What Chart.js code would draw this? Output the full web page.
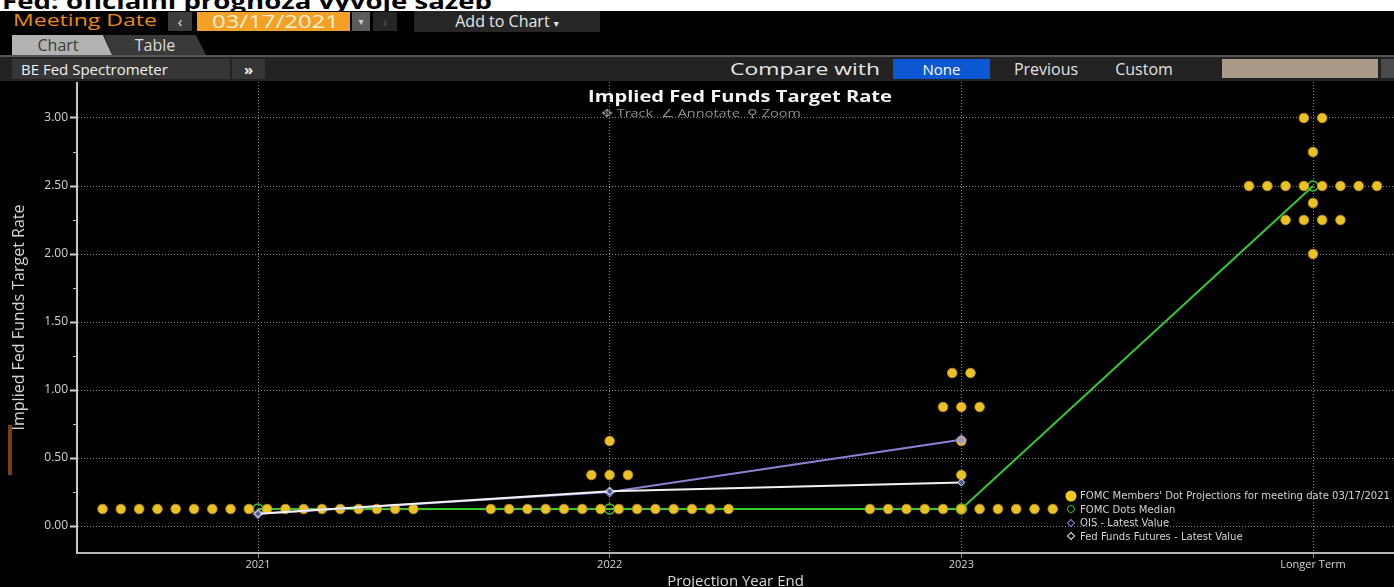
<!DOCTYPE html>
<html>
<head>
<meta charset="utf-8">
<title>Implied Fed Funds Target Rate</title>
<script src="https://cdn.jsdelivr.net/npm/chart.js@4.4.0/dist/chart.umd.min.js"></script>
<style>
    html, body {
        margin: 0;
        padding: 0;
        width: 1394px;
        height: 587px;
        overflow: hidden;
        background: #000;
        font-family: 'Open Sans', 'DejaVu Sans', sans-serif;
    }
    .abs { position: absolute; white-space: nowrap; }
    .fit { display: inline-block; transform-origin: left center; }
    #topTitle {
        position: absolute; left: 0; top: 0; width: 1394px; height: 11px;
        background: #fff; overflow: hidden;
    }
    #topTitle span {
        position: absolute; left: 2px; top: -11px;
        font: bold 22px/22px 'Open Sans', sans-serif; color: #000;
    }
    .btn {
        position: absolute; height: 19px; line-height: 19px;
        text-align: center; font-size: 15px; color: #e6e6e6;
    }
    .row3 {
        position: absolute; left: 0; top: 57px; width: 1394px; height: 24px;
        background: #232323;
    }
    #chartWrap { position: absolute; left: 0; top: 82px; }
    #chartTitle {
        position: absolute; left: 588px; top: 85px;
        font: bold 16px 'Open Sans', sans-serif; color: #f4f4f4;
    }
    #chartTools {
        position: absolute; left: 601px; top: 105px;
        font: 11px 'Open Sans', sans-serif; color: #8c8c8c;
    }
    #legend {
        position: absolute; left: 1062px; top: 489px;
        font: 10px 'Liberation Sans Narrow', 'DejaVu Sans Condensed', sans-serif;
        color: #d4d4d4;
    }
    #legend .item { position: relative; height: 13.5px; line-height: 13.5px; padding-left: 18px; }
    #legend .mk { position: absolute; left: 9px; top: 50%; transform: translate(-50%, -50%); }
</style>
</head>
<body>

<div id="topTitle"><span class="fit" data-w="490">Fed: oficiální prognóza vývoje sazeb</span></div>

<!-- header row 1 -->
<div class="abs" style="left:13px; top:8px; font-size:17px; color:#e8891a;"><span class="fit" data-w="144">Meeting Date</span></div>
<div class="btn" style="left:168px; top:12px; width:24px; background:#3c3c3c;">&lsaquo;</div>
<div class="btn" style="left:197px; top:12px; width:153px; background:#f2a126;"><span class="fit" data-w="127" style="color:#fff0d4; font-size:19px; line-height:19px; position:absolute; left:15px; top:0;">03/17/2021</span></div>
<div class="btn" style="left:352px; top:12px; width:18px; background:#5c5c5c; color:#cfcfcf; font-size:10px;">&#9662;</div>
<div class="btn" style="left:373px; top:12px; width:24px; background:#262626; color:#5a5a5a;">&rsaquo;</div>
<div class="btn" style="left:414px; top:11px; width:186px; height:21px; line-height:21px; background:#262626; font-size:16px;">Add to Chart <span style="font-size:10px;">&#9662;</span></div>

<!-- header row 2: tabs -->
<div class="btn" style="left:104px; top:35px; width:102px; height:20px; line-height:20px; background:#3a3a3a; color:#dcdcdc; font-size:16px; clip-path:polygon(0 0, 90% 0, 100% 100%, 8% 100%);">Table</div>
<div class="btn" style="left:12px; top:35px; width:100px; height:20px; line-height:20px; background:#b2b2b2; color:#3a3a3a; font-size:16px; padding-right:8px; box-sizing:border-box; clip-path:polygon(0 0, 91% 0, 100% 100%, 0 100%);">Chart</div>
<div class="abs" style="left:0; top:55px; width:1394px; height:2px; background:#555;"></div>

<!-- header row 3 -->
<div class="row3"></div>
<div class="btn" style="left:12px; top:59px; width:218px; height:20px; line-height:20px; background:#363636; color:#f0f0f0; text-align:left; padding-left:9px; box-sizing:border-box; font-size:15px;">BE Fed Spectrometer</div>
<div class="btn" style="left:232px; top:59px; width:33px; height:20px; line-height:20px; background:#363636; color:#f0f0f0; font-weight:bold;">&raquo;</div>
<div class="abs" style="left:730px; top:57px; font-size:17px; color:#e8e8e8;"><span class="fit" data-w="150">Compare with</span></div>
<div class="btn" style="left:893px; top:59px; width:97px; height:20px; line-height:20px; background:#0b58d2; color:#fff; font-size:15px;">None</div>
<div class="btn" style="left:996px; top:59px; width:100px; height:20px; line-height:20px; color:#e2e2e2; font-size:16px;">Previous</div>
<div class="btn" style="left:1098px; top:59px; width:92px; height:20px; line-height:20px; color:#e2e2e2; font-size:16px;">Custom</div>
<div class="abs" style="left:1222px; top:59px; width:156px; height:19px; background:#a99a88;"></div>
<div class="abs" style="left:1381px; top:59px; width:13px; height:19px; background:#4a4a4a;"></div>

<div class="abs" style="left:8px; top:425px; width:4px; height:50px; background:#7a3e16;"></div>

<div id="chartWrap"><canvas id="fedChart" width="1394" height="520"></canvas></div>

<div id="chartTitle"><span class="fit" data-w="304">Implied Fed Funds Target Rate</span></div>
<div id="chartTools"><span class="fit" data-w="200">&#10021; Track &nbsp;&#8736; Annotate &nbsp;&#9906; Zoom</span></div>

<div id="legend"></div>

<script>
// Categories and tick labels
const categories = ['2021', '2022', '2023', 'Longer Term'];
const yTicks = [0, 0.5, 1.0, 1.5, 2.0, 2.5, 3.0];
const yMinorTicks = [0.25, 0.75, 1.25, 1.75, 2.25, 2.75];

// FOMC dot plot: rate levels and number of participants at each level, per category
const dotRates = [0.125, 0.375, 0.625, 0.875, 1.125, 2.0, 2.25, 2.375, 2.5, 2.75, 3.0];
const dotCounts2021 = [18, 0, 0, 0, 0, 0, 0, 0, 0, 0, 0];
const dotCounts2022 = [14, 3, 1, 0, 0, 0, 0, 0, 0, 0, 0];
const dotCounts2023 = [11, 1, 1, 3, 2, 0, 0, 0, 0, 0, 0];
const dotCountsLonger = [0, 0, 0, 0, 0, 1, 4, 1, 8, 1, 2];

// Lines
const medianValues = [0.125, 0.125, 0.125, 2.5];
const oisValues = [0.09, 0.25, 0.635];
const futuresValues = [0.09, 0.255, 0.32];

const dotStep = 0.052; // horizontal spread between dots at one level

function buildDots() {
    const points = [];
    [dotCounts2021, dotCounts2022, dotCounts2023, dotCountsLonger].forEach((counts, ci) => {
        counts.forEach((n, ri) => {
            for (let k = 0; k < n; k++) {
                points.push({ x: ci + (k - (n - 1) / 2) * dotStep, y: dotRates[ri] });
            }
        });
    });
    return points;
}

function toXY(values) {
    return values.map((v, i) => ({ x: i, y: v }));
}

const gridColor = '#8a8a8a';
const labelColor = '#d4d4d4';

// minor tick marks on the rate axis
const minorTicks = {
    id: 'minorTicks',
    afterDraw(chart) {
        const y = chart.scales.y;
        const ctx = chart.ctx;
        ctx.save();
        ctx.strokeStyle = '#bdbdbd';
        ctx.lineWidth = 1;
        yMinorTicks.forEach(v => {
            const py = Math.round(y.getPixelForValue(v)) + 0.5;
            ctx.beginPath();
            ctx.moveTo(y.right - 4, py);
            ctx.lineTo(y.right, py);
            ctx.stroke();
        });
        ctx.restore();
    }
};

const chart = new Chart(document.getElementById('fedChart'), {
    type: 'scatter',
    data: {
        datasets: [
            {
                label: "FOMC Members' Dot Projections for meeting date 03/17/2021",
                data: buildDots(),
                backgroundColor: '#e9c226',
                borderColor: 'rgba(190,140,20,0.9)',
                borderWidth: 1,
                pointRadius: 4.8,
                order: 2
            },
            {
                label: 'FOMC Dots Median',
                data: toXY(medianValues),
                showLine: true,
                borderColor: '#33c933',
                borderWidth: 2,
                backgroundColor: 'rgba(0,0,0,0)',
                pointBorderColor: '#33c933',
                pointBorderWidth: 1.5,
                pointRadius: 5,
                order: 3
            },
            {
                label: 'OIS - Latest Value',
                data: toXY(oisValues),
                showLine: true,
                borderColor: '#8d80d4',
                borderWidth: 2,
                pointStyle: 'rectRot',
                backgroundColor: 'rgba(150,135,215,0.6)',
                pointBorderColor: 'rgba(170,160,230,0.6)',
                pointRadius: 4.5,
                order: 1
            },
            {
                label: 'Fed Funds Futures - Latest Value',
                data: toXY(futuresValues),
                showLine: true,
                borderColor: '#f2f2f2',
                borderWidth: 2,
                pointStyle: 'rectRot',
                backgroundColor: '#4d5a9a',
                pointBorderColor: '#f2f2f2',
                pointBorderWidth: 1,
                pointRadius: 3.5,
                order: 0
            }
        ]
    },
    options: {
        responsive: false,
        animation: false,
        events: [],
        devicePixelRatio: 1,
        layout: { padding: 0, autoPadding: false },
        plugins: {
            legend: { display: false },
            tooltip: { enabled: false }
        },
        scales: {
            x: {
                type: 'linear',
                min: -0.5147,
                max: 3.2303,
                afterBuildTicks: s => { s.ticks = categories.map((c, i) => ({ value: i })); },
                afterFit: s => {
                    s.height = 49;
                    s.paddingLeft = 0;
                    s.paddingRight = 0;
                },
                ticks: {
                    callback: v => categories[v] || '',
                    color: labelColor,
                    font: { family: 'Open Sans', size: 11 },
                    padding: 0,
                    maxRotation: 0,
                    autoSkip: false
                },
                grid: {
                    color: gridColor,
                    lineWidth: 1,
                    tickLength: 5,
                    tickColor: gridColor
                },
                border: { color: '#b4b4b4', width: 2, dash: [1, 2] },
                title: {
                    display: true,
                    text: 'Projection Year End',
                    color: '#dadada',
                    font: { family: 'Open Sans', size: 15 },
                    padding: { top: 0, bottom: 11 }
                }
            },
            y: {
                min: -0.1985,
                max: 3.2647,
                afterBuildTicks: s => { s.ticks = yTicks.map(v => ({ value: v })); },
                afterFit: s => {
                    s.width = 77;
                    s.paddingTop = 0;
                    s.paddingBottom = 0;
                },
                ticks: {
                    callback: v => v.toFixed(2),
                    color: labelColor,
                    font: { family: 'Open Sans', size: 12 },
                    padding: 2
                },
                grid: {
                    color: gridColor,
                    lineWidth: 1,
                    tickLength: 7,
                    tickColor: '#d0d0d0',
                    tickWidth: 2
                },
                border: { color: '#c8c8c8', width: 2, dash: [1, 2] },
                title: {
                    display: true,
                    text: 'Implied Fed Funds Target Rate',
                    color: '#d6d6d6',
                    font: { family: 'Open Sans', size: 16 },
                    padding: { top: 10, bottom: 0 }
                }
            }
        }
    },
    plugins: [minorTicks]
});

// HTML legend built from the datasets
const markers = [
    '<span class="mk" style="width:11px;height:11px;border-radius:50%;background:#f0c820;"></span>',
    '<span class="mk" style="width:6px;height:6px;border-radius:50%;border:1.5px solid #33c933;"></span>',
    '<span class="mk" style="width:4px;height:4px;border:1.5px solid #9080d8;transform:translate(-50%,-50%) rotate(45deg);"></span>',
    '<span class="mk" style="width:4px;height:4px;border:1.5px solid #e8e8e8;transform:translate(-50%,-50%) rotate(45deg);"></span>'
];
const legendEl = document.getElementById('legend');
legendEl.innerHTML = chart.data.datasets
    .map((ds, i) => '<div class="item">' + markers[i] + '<span class="lt" style="display:inline-block;transform-origin:left center;">' + ds.label + '</span></div>')
    .join('');
const legendTexts = legendEl.querySelectorAll('.lt');
const legendScale = 310 / legendTexts[0].getBoundingClientRect().width;
legendTexts.forEach(el => { el.style.transform = 'scaleX(' + legendScale + ')'; });

// stretch a few labels to the widths they have in the screenshot
document.querySelectorAll('.fit').forEach(el => {
    const target = parseFloat(el.dataset.w);
    const w = el.getBoundingClientRect().width;
    if (w > 0) el.style.transform = 'scaleX(' + (target / w) + ')';
});
</script>
</body>
</html>
